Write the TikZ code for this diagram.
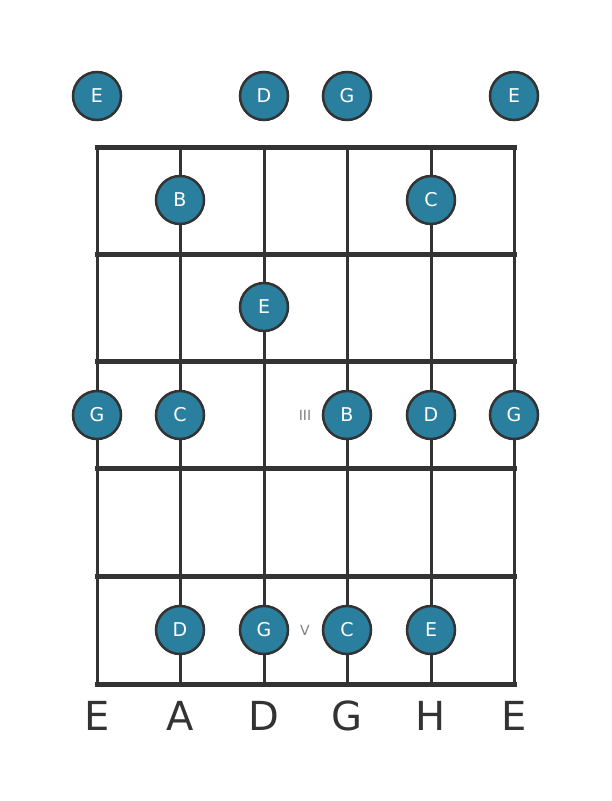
\documentclass[tikz,border=0pt]{standalone}
\usepackage{fontspec}
\setmainfont{DejaVu Sans}
\definecolor{linegray}{HTML}{333333}
\definecolor{dotteal}{HTML}{2A7F9E}
\definecolor{markgray}{HTML}{808080}
\tikzset{
  note/.style     = {shape=circle, draw=linegray, line width=2.5pt,
                     fill=dotteal, minimum size=48pt, inner sep=0pt,
                     text=white, font=\fontsize{19}{21}\selectfont},
  fretline/.style = {draw=linegray, line width=5pt},
  strline/.style  = {draw=linegray, line width=3pt},
  tuning/.style   = {text=linegray, font=\fontsize{40}{44}\selectfont},
  position/.style = {text=markgray, font=\fontsize{14}{16}\selectfont}
}
\begin{document}
\begin{tikzpicture}[x=1pt,y=-1pt]
  \useasboundingbox (0,0) rectangle (611,801);

  % strings
  \foreach \s/\x in {1/97,2/180,3/264,4/347,5/431,6/514}
    \draw[strline] (\x,147) -- (\x,684);
  % frets
  \foreach \f/\y in {0/147,1/254,2/361,3/468,4/576,5/684}
    \draw[fretline] (94.5,\y) -- (516.5,\y);

  % position marks
  \node[position] (markIII) at (305,415) {III};
  \node[position] (markV)   at (305,630) {V};

  % open strings
  \node[note] (open1) at (97,96)  {E};
  \node[note] (open3) at (264,96) {D};
  \node[note] (open4) at (347,96) {G};
  \node[note] (open6) at (514,96) {E};

  % fret 1
  \node[note] (f1s2) at (180,200) {B};
  \node[note] (f1s5) at (431,200) {C};

  % fret 2
  \node[note] (f2s3) at (264,307) {E};

  % fret 3
  \node[note] (f3s1) at (97,415)  {G};
  \node[note] (f3s2) at (180,415) {C};
  \node[note] (f3s4) at (347,415) {B};
  \node[note] (f3s5) at (431,415) {D};
  \node[note] (f3s6) at (514,415) {G};

  % fret 5
  \node[note] (f5s2) at (180,630) {D};
  \node[note] (f5s3) at (264,630) {G};
  \node[note] (f5s4) at (347,630) {C};
  \node[note] (f5s5) at (431,630) {E};

  % tuning
  \node[tuning] (tun1) at (97,716)  {E};
  \node[tuning] (tun2) at (180,716) {A};
  \node[tuning] (tun3) at (264,716) {D};
  \node[tuning] (tun4) at (347,716) {G};
  \node[tuning] (tun5) at (431,716) {H};
  \node[tuning] (tun6) at (514,716) {E};
\end{tikzpicture}
\end{document}
